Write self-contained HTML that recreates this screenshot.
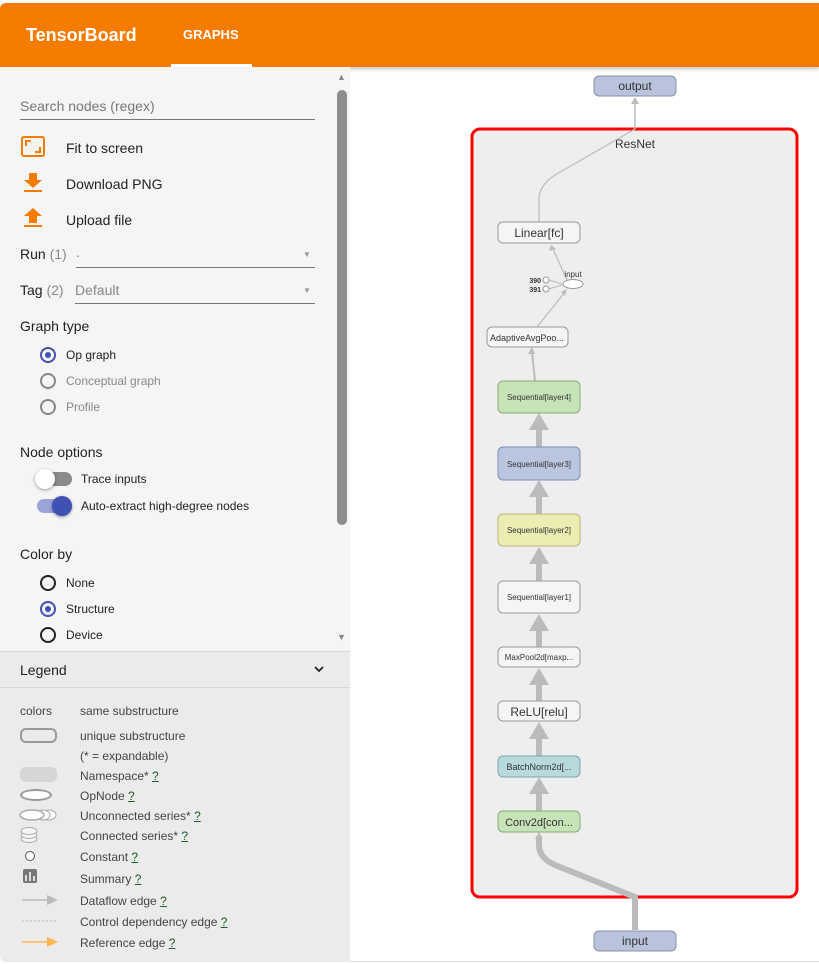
<!DOCTYPE html>
<html><head><meta charset="utf-8"><style>
*{margin:0;padding:0;box-sizing:border-box}
body{width:819px;height:964px;overflow:hidden;background:#fff;font-family:"Liberation Sans",sans-serif;position:relative;color:#222}
.abs{position:absolute}
#hdr{left:0;top:3px;width:819px;height:64px;background:#f57c00;border-radius:6px 0 0 0;box-shadow:0 2px 4px rgba(0,0,0,.25)}
#side{left:0;top:67px;width:350px;height:584px;background:#f5f5f5}
#leg{left:0;top:651px;width:350px;height:311px;background:#ebebeb;border-top:1px solid #d6d6d6;border-radius:0 0 0 6px}
.t{position:absolute;font-size:13px;white-space:nowrap}
.rad{position:absolute;width:16px;height:16px;border-radius:50%;border:2px solid #222}
.rad.on{border-color:#3f51b5}
.rad.on:after{content:"";position:absolute;left:3px;top:3px;width:6px;height:6px;border-radius:50%;background:#3f51b5}
.rad.dis{border-color:#888}
.q{color:#1b5e20;text-decoration:underline}
</style></head><body>
<div id="hdr" class="abs"></div>
<div class="t" style="left:26px;top:25px;font-size:18px;font-weight:bold;color:#fff">TensorBoard</div>
<div class="t" style="left:183px;top:27px;font-size:13px;font-weight:bold;color:#fff">GRAPHS</div>
<div class="abs" style="left:171px;top:64px;width:81px;height:3px;background:#fff"></div>

<div id="side" class="abs"></div>
<div class="abs" style="left:337px;top:90px;width:10px;height:435px;background:#8c8c8c;border-radius:5px"></div>
<div class="t" style="left:337px;top:72px;font-size:9px;color:#888">▲</div>
<div class="t" style="left:337px;top:632px;font-size:9px;color:#888">▼</div>
<div class="t" style="left:20px;top:98px;font-size:14px;color:#777">Search nodes (regex)</div>
<div class="abs" style="left:20px;top:119px;width:295px;height:1px;background:#777"></div>
<svg class="abs" style="left:20px;top:135px" width="26" height="24">
<rect x="2" y="2" width="22" height="19" rx="2" fill="none" stroke="#f57c00" stroke-width="2"/>
<path d="M6 11 V6 H11 M20 12 V17 H15" fill="none" stroke="#f57c00" stroke-width="2"/>
</svg>
<div class="t" style="left:66px;top:140px;font-size:14px">Fit to screen</div>
<svg class="abs" style="left:22px;top:172px" width="22" height="22">
<path d="M7 1 H15 V8 H20 L11 16 L2 8 H7Z" fill="#f57c00"/><rect x="2" y="18" width="18" height="2" fill="#f57c00"/></svg>
<div class="t" style="left:66px;top:176px;font-size:14px">Download PNG</div>
<svg class="abs" style="left:22px;top:207px" width="22" height="22">
<path d="M7 16 H15 V9 H20 L11 1 L2 9 H7Z" fill="#f57c00"/><rect x="2" y="18" width="18" height="2" fill="#f57c00"/></svg>
<div class="t" style="left:66px;top:212px;font-size:14px">Upload file</div>
<div class="t" style="left:20px;top:246px;font-size:14px">Run <span style="color:#888">(1)</span></div>
<div class="t" style="left:76px;top:244px;font-size:14px;color:#888">.</div>
<div class="t" style="left:303px;top:250px;font-size:8px;color:#999">▼</div>
<div class="abs" style="left:76px;top:267px;width:239px;height:1px;background:#777"></div>
<div class="t" style="left:20px;top:282px;font-size:14px">Tag <span style="color:#888">(2)</span></div>
<div class="t" style="left:75px;top:282px;font-size:14px;color:#888">Default</div>
<div class="t" style="left:303px;top:286px;font-size:8px;color:#999">▼</div>
<div class="abs" style="left:75px;top:303px;width:240px;height:1px;background:#777"></div>
<div class="t" style="left:20px;top:318px;font-size:14px">Graph type</div>
<div class="rad on" style="left:40px;top:347px"></div><div class="t" style="left:66px;top:348px;font-size:12px">Op graph</div>
<div class="rad dis" style="left:40px;top:373px"></div><div class="t" style="left:66px;top:374px;font-size:12px;color:#888">Conceptual graph</div>
<div class="rad dis" style="left:40px;top:399px"></div><div class="t" style="left:66px;top:400px;font-size:12px;color:#888">Profile</div>
<div class="t" style="left:20px;top:444px;font-size:14px">Node options</div>
<div class="abs" style="left:37px;top:472px;width:35px;height:14px;border-radius:7px;background:#8a8a8a"></div>
<div class="abs" style="left:35px;top:469px;width:20px;height:20px;border-radius:50%;background:#fff;box-shadow:0 1px 3px rgba(0,0,0,.4)"></div>
<div class="t" style="left:81px;top:472px;font-size:12px">Trace inputs</div>
<div class="abs" style="left:37px;top:499px;width:35px;height:14px;border-radius:7px;background:#9aa4d6"></div>
<div class="abs" style="left:52px;top:496px;width:20px;height:20px;border-radius:50%;background:#3f51b5;box-shadow:0 1px 3px rgba(0,0,0,.4)"></div>
<div class="t" style="left:81px;top:499px;font-size:12px">Auto-extract high-degree nodes</div>
<div class="t" style="left:20px;top:546px;font-size:14px">Color by</div>
<div class="rad" style="left:40px;top:575px"></div><div class="t" style="left:66px;top:576px;font-size:12px">None</div>
<div class="rad on" style="left:40px;top:601px"></div><div class="t" style="left:66px;top:602px;font-size:12px">Structure</div>
<div class="rad" style="left:40px;top:627px"></div><div class="t" style="left:66px;top:628px;font-size:12px">Device</div>

<div id="leg" class="abs"></div>
<div class="abs" style="left:0;top:687px;width:350px;height:1px;background:#d6d6d6"></div>
<div class="t" style="left:20px;top:662px;font-size:14px">Legend</div>
<svg class="abs" style="left:313px;top:665px" width="12" height="10"><path d="M2 2 L6 6 L10 2" fill="none" stroke="#222" stroke-width="1.8"/></svg>
<div class="t" style="left:20px;top:704px;font-size:12px;color:#444">colors</div>
<div class="t" style="left:80px;top:704px;font-size:12px;color:#444">same substructure</div>
<div class="abs" style="left:20px;top:728px;width:37px;height:15px;border:2px solid #999;border-radius:6px"></div>
<div class="t" style="left:80px;top:729px;font-size:12px;color:#444">unique substructure</div>
<div class="t" style="left:80px;top:749px;font-size:12px;color:#444">(* = expandable)</div>
<div class="abs" style="left:20px;top:767px;width:37px;height:15px;background:#d6d6d6;border-radius:6px"></div>
<div class="t" style="left:80px;top:769px;font-size:12px;color:#444">Namespace* <span class="q">?</span></div>
<div class="abs" style="left:20px;top:789px;width:32px;height:12px;border:2px solid #999;border-radius:50%;background:#fff"></div>
<div class="t" style="left:80px;top:789px;font-size:12px;color:#444">OpNode <span class="q">?</span></div>
<svg class="abs" style="left:18px;top:808px" width="42" height="14">
<ellipse cx="31" cy="7" rx="7" ry="5" fill="#fff" stroke="#aaa"/><ellipse cx="25" cy="7" rx="7" ry="5" fill="#fff" stroke="#aaa"/><ellipse cx="14" cy="7" rx="12" ry="5" fill="#fff" stroke="#aaa" stroke-width="1.5"/></svg>
<div class="t" style="left:80px;top:809px;font-size:12px;color:#444">Unconnected series* <span class="q">?</span></div>
<svg class="abs" style="left:19px;top:827px" width="20" height="18">
<ellipse cx="10" cy="12" rx="8" ry="3.5" fill="#f5f5f5" stroke="#aaa"/><ellipse cx="10" cy="8" rx="8" ry="3.5" fill="#f5f5f5" stroke="#aaa"/><ellipse cx="10" cy="4" rx="8" ry="3.5" fill="#f5f5f5" stroke="#aaa"/></svg>
<div class="t" style="left:80px;top:829px;font-size:12px;color:#444">Connected series* <span class="q">?</span></div>
<div class="abs" style="left:25px;top:851px;width:10px;height:10px;border:1px solid #555;border-radius:50%;background:#fff"></div>
<div class="t" style="left:80px;top:850px;font-size:12px;color:#444">Constant <span class="q">?</span></div>
<div class="abs" style="left:23px;top:869px;width:14px;height:14px;background:#777;border-radius:2px"></div>
<div class="t" style="left:80px;top:872px;font-size:12px;color:#444">Summary <span class="q">?</span></div>
<div class="t" style="left:80px;top:894px;font-size:12px;color:#444">Dataflow edge <span class="q">?</span></div>
<div class="t" style="left:80px;top:915px;font-size:12px;color:#444">Control dependency edge <span class="q">?</span></div>
<div class="t" style="left:80px;top:936px;font-size:12px;color:#444">Reference edge <span class="q">?</span></div>
<svg class="abs" style="left:0;top:0" width="819" height="964">
<path d="M26 875 v6 M30 872 v9 M34 876 v5" stroke="#fff" stroke-width="1.5"/>
<line x1="22" y1="900" x2="50" y2="900" stroke="#bbb" stroke-width="1.5"/><polygon points="47,895 58,900 47,905" fill="#bbb"/>
<line x1="22" y1="921" x2="58" y2="921" stroke="#bbb" stroke-dasharray="2,2"/>
<line x1="22" y1="942" x2="50" y2="942" stroke="#ffb74d" stroke-width="1.5"/><polygon points="47,937 58,942 47,947" fill="#ffb74d"/>
</svg>

<svg class="abs" style="left:0;top:0" width="819" height="964" font-family="Liberation Sans,sans-serif">
<defs><style>.n{stroke:#999;stroke-width:1}.l{font-size:12px;fill:#333;text-anchor:middle}.s{font-size:8px;fill:#333;text-anchor:middle}</style></defs>
<rect x="472" y="129" width="325" height="768" rx="8" fill="#eeeeee" stroke="#ff0000" stroke-width="3"/>
<text x="635" y="148" class="l">ResNet</text>
<line x1="635" y1="129" x2="635" y2="100" stroke="#bbb" stroke-width="1.5"/><polygon points="631,104 635,97 639,104" fill="#bbb"/>
<path d="M539 222 L539 200 Q539 185 555 175 L635 129" fill="none" stroke="#bbb" stroke-width="1.2"/>
<path d="M635 930 L635 897 L555 865 Q539 858 539 845 L539 836" fill="none" stroke="#bbb" stroke-width="6"/>
<polygon points="535,839 539,832 543,839" fill="#bbb"/>
<g fill="#bbb">
<rect x="536" y="788" width="6" height="23"/><polygon points="529,794 539,777 549,794"/>
<rect x="536" y="733" width="6" height="23"/><polygon points="529,739 539,722 549,739"/>
<rect x="536" y="679" width="6" height="22"/><polygon points="529,685 539,668 549,685"/>
<rect x="536" y="625" width="6" height="22"/><polygon points="529,631 539,614 549,631"/>
<rect x="536" y="559" width="6" height="22"/><polygon points="529,564 539,547 549,564"/>
<rect x="536" y="492" width="6" height="22"/><polygon points="529,497 539,480 549,497"/>
<rect x="536" y="425" width="6" height="22"/><polygon points="529,430 539,413 549,430"/>
</g>
<line x1="535" y1="381" x2="532" y2="352" stroke="#bbb" stroke-width="2"/><polygon points="528,354 532,347 535,354" fill="#bbb"/>
<line x1="537" y1="327" x2="565" y2="292" stroke="#bbb" stroke-width="1.2"/><polygon points="561,292 567,289 565,296" fill="#bbb"/>
<line x1="567" y1="280" x2="553" y2="249" stroke="#bbb" stroke-width="1.2"/><polygon points="549,251 551,245 556,249" fill="#bbb"/>
<line x1="549" y1="280" x2="562" y2="284" stroke="#bbb"/><line x1="549" y1="289" x2="562" y2="285" stroke="#bbb"/>
<rect x="594" y="76" width="82" height="20" rx="5" fill="#bac3dc" stroke="#8891aa"/><text x="635" y="90" class="l">output</text>
<rect x="594" y="931" width="82" height="20" rx="5" fill="#bac3dc" stroke="#8891aa"/><text x="635" y="945" class="l">input</text>
<rect x="498" y="222" width="82" height="21" rx="5" fill="#f5f5f5" class="n"/><text x="539" y="237" class="l">Linear[fc]</text>
<ellipse cx="573" cy="284" rx="10" ry="4.5" fill="#fff" class="n"/><text x="573" y="277" class="s">input</text>
<circle cx="546" cy="280" r="3" fill="#fff" class="n"/><circle cx="546" cy="289" r="3" fill="#fff" class="n"/>
<text x="541" y="283" class="s" style="text-anchor:end;font-size:7px;font-weight:bold">390</text><text x="541" y="292" class="s" style="text-anchor:end;font-size:7px;font-weight:bold">391</text>
<rect x="487" y="327" width="81" height="20" rx="5" fill="#f5f5f5" class="n"/><text x="527" y="341" class="s" style="font-size:9px">AdaptiveAvgPoo...</text>
<rect x="498" y="381" width="82" height="32" rx="5" fill="#c7e4b8" stroke="#8aa87a"/><text x="539" y="400" class="s">Sequential[layer4]</text>
<rect x="498" y="447" width="82" height="33" rx="5" fill="#bac6e0" stroke="#8090b0"/><text x="539" y="467" class="s">Sequential[layer3]</text>
<rect x="498" y="514" width="82" height="32" rx="5" fill="#ebedb2" stroke="#b5b67a"/><text x="539" y="533" class="s">Sequential[layer2]</text>
<rect x="498" y="581" width="82" height="32" rx="5" fill="#f5f5f5" class="n"/><text x="539" y="600" class="s">Sequential[layer1]</text>
<rect x="498" y="647" width="82" height="20" rx="5" fill="#f5f5f5" class="n"/><text x="539" y="660" class="s">MaxPool2d[maxp...</text>
<rect x="498" y="701" width="82" height="20" rx="5" fill="#f5f5f5" class="n"/><text x="539" y="716" class="l">ReLU[relu]</text>
<rect x="498" y="756" width="82" height="21" rx="5" fill="#b8dadc" stroke="#80a6a8"/><text x="539" y="770" class="s" style="font-size:9px">BatchNorm2d[...</text>
<rect x="498" y="811" width="82" height="21" rx="5" fill="#c7e4b8" stroke="#8aa87a"/><text x="539" y="826" class="l" style="font-size:11px">Conv2d[con...</text>
</svg>
<div class="abs" style="left:350px;top:961px;width:469px;height:1px;background:#ddd"></div>
</body></html>
